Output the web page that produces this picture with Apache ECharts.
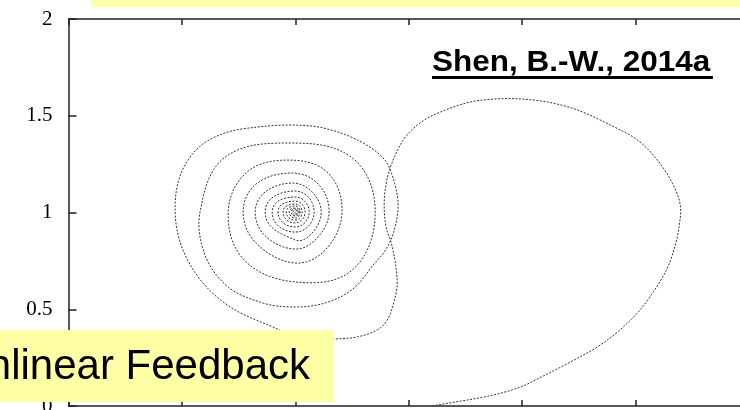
<!DOCTYPE html>
<html>
<head>
<meta charset="utf-8">
<script src="https://cdn.jsdelivr.net/npm/echarts@6/dist/echarts.min.js"></script>
<style>html,body{margin:0;padding:0;background:#fff}#c{width:740px;height:410px}</style>
</head>
<body>
<div id="c"></div>
<script>
// Axis tick values
const xTicks = [0, 0.5, 1, 1.5, 2, 2.5, 3];
const yTicks = [0, 0.5, 1, 1.5, 2];

// Trajectory (x, y), in order
const bigLoop = [
  [1.603,0.000],[1.758,0.031],[1.873,0.057],[1.992,0.098],[2.093,0.155],[2.212,0.227],
  [2.331,0.305],[2.420,0.382],[2.508,0.481],[2.578,0.589],[2.640,0.713],[2.675,0.832],
  [2.693,0.935],[2.697,1.039],[2.662,1.152],[2.596,1.271],[2.508,1.375],[2.389,1.452],
  [2.243,1.530],[2.111,1.571],[1.992,1.587],[1.890,1.587],[1.771,1.571],[1.639,1.519],
  [1.550,1.463],[1.476,1.375],[1.418,1.230],[1.396,1.116],[1.392,1.013],[1.401,0.920],
  [1.423,0.842],[1.440,0.744],[1.449,0.625],[1.431,0.522],[1.405,0.444],[1.361,0.393],
  [1.273,0.357],[1.176,0.346],[1.043,0.336]
];
const spiralTurn1 = [
  [0.911,0.403],[0.721,0.506],[0.589,0.641],[0.501,0.817],[0.470,1.003],[0.492,1.189],
  [0.571,1.333],[0.690,1.411],[0.836,1.442],[0.986,1.452],[1.123,1.437],[1.273,1.375],
  [1.387,1.282],[1.431,1.178],[1.453,1.034],[1.431,0.889],[1.392,0.796],[1.343,0.729],
  [1.273,0.625],[1.198,0.563],[1.096,0.522],[0.977,0.512]
];
const spiralTurn2 = [
  [0.858,0.532],[0.704,0.615],[0.602,0.780],[0.580,1.003],[0.686,1.282],[0.964,1.359],
  [1.251,1.282],[1.352,1.003],[1.251,0.703],[0.999,0.641]
];
const spiralTurn3 = [
  [0.774,0.755],[0.704,1.003],[0.787,1.209],[0.968,1.271],[1.140,1.209],[1.206,1.008],
  [1.136,0.811],[0.999,0.739]
];
const spiralTurn4 = [
  [0.827,0.842],[0.770,1.003],[0.827,1.147],[0.986,1.204],[1.101,1.147],[1.149,1.003],
  [1.096,0.868],[0.999,0.811]
];
const spiralTurn5 = [
  [0.867,0.879],[0.823,1.003],[0.867,1.106],[0.990,1.152],[1.074,1.106],[1.114,1.003],
  [1.074,0.894],[0.999,0.858]
];
const spiralCore = [
  [0.867,1.003],[0.999,1.111],[1.083,1.003],[0.999,0.899],
  [0.898,1.003],[0.999,1.080],[1.061,1.003],[0.999,0.925],
  [0.924,1.003],[0.999,1.059],[1.043,1.003],[0.999,0.946],
  [0.946,1.003],[0.999,1.044],[1.030,1.003],[0.999,0.961],
  [0.960,1.003],[0.999,1.034],[1.021,1.003],[0.999,0.972],
  [0.973,1.003],[0.999,1.023],[1.017,1.003],[0.999,0.982],
  [0.982,1.003],[0.999,1.018],[1.012,1.003],[0.999,0.987],
  [0.990,1.003],[0.999,1.013],[1.008,1.003],[0.999,0.992],
  [0.999,1.003]
];

const trajectory = [].concat(bigLoop, spiralTurn1, spiralTurn2, spiralTurn3, spiralTurn4, spiralTurn5, spiralCore);

const axisColor = '#222';

// smooth curve through the projected points (handle length adapted to the turning angle)
function buildPath(pts) {
  const n = pts.length;
  const tan = [];
  for (let i = 0; i < n; i++) {
    const p = pts[i];
    const a = pts[i - 1] || p, b = pts[i + 1] || p;
    const ux = p[0] - a[0], uy = p[1] - a[1], wx = b[0] - p[0], wy = b[1] - p[1];
    const dPrev = Math.hypot(ux, uy), dNext = Math.hypot(wx, wy);
    let s = 1 / 3;
    if (dPrev > 0 && dNext > 0) {
      let th = Math.acos(Math.max(-1, Math.min(1, (ux * wx + uy * wy) / (dPrev * dNext))));
      th = Math.min(th, 1.9);
      if (th > 1e-3) s = (4 / 3) * Math.tan(th / 4) / Math.sin(th);
    }
    const sum = dPrev + dNext || 1;
    const vx = b[0] - a[0], vy = b[1] - a[1];
    tan.push({
      inX: p[0] - vx * s * dPrev / sum, inY: p[1] - vy * s * dPrev / sum,
      outX: p[0] + vx * s * dNext / sum, outY: p[1] + vy * s * dNext / sum
    });
  }
  let d = 'M' + pts[0][0].toFixed(2) + ',' + pts[0][1].toFixed(2);
  for (let i = 0; i < n - 1; i++) {
    const q = pts[i + 1];
    d += ' C' + tan[i].outX.toFixed(2) + ',' + tan[i].outY.toFixed(2) + ' ' +
      tan[i + 1].inX.toFixed(2) + ',' + tan[i + 1].inY.toFixed(2) + ' ' +
      q[0].toFixed(2) + ',' + q[1].toFixed(2);
  }
  return d;
}

const chart = echarts.init(document.getElementById('c'), null, {renderer: 'canvas'});
chart.setOption({
  animation: false,
  backgroundColor: '#fff',
  grid: {left: 68.5, top: 19, right: -9, bottom: 4, containLabel: false, outerBoundsMode: 'none'},
  xAxis: [{
    type: 'value', min: xTicks[0], max: xTicks[xTicks.length - 1], interval: 0.5, position: 'bottom',
    axisLine: {show: true, onZero: false, lineStyle: {color: axisColor, width: 1.5}},
    axisTick: {show: true, inside: true, length: 6, lineStyle: {color: axisColor, width: 1.5}},
    axisLabel: {show: true, fontFamily: 'Liberation Serif', fontSize: 21, color: '#000'},
    splitLine: {show: false}
  }, {
    type: 'value', min: xTicks[0], max: xTicks[xTicks.length - 1], interval: 0.5, position: 'top',
    axisLine: {show: true, onZero: false, lineStyle: {color: axisColor, width: 1.5}},
    axisTick: {show: true, inside: true, length: 6, lineStyle: {color: axisColor, width: 1.5}},
    axisLabel: {show: false},
    splitLine: {show: false}
  }],
  yAxis: [{
    type: 'value', min: yTicks[0], max: yTicks[yTicks.length - 1], interval: 0.5,
    axisLine: {show: true, onZero: false, lineStyle: {color: axisColor, width: 1.5}},
    axisTick: {show: true, inside: true, length: 8, lineStyle: {color: axisColor, width: 1.5}},
    axisLabel: {show: true, fontFamily: 'Liberation Serif', fontSize: 21, color: '#000', margin: 16,
      formatter: v => String(v)},
    splitLine: {show: false}
  }],
  series: [{
    type: 'custom',
    coordinateSystem: 'cartesian2d',
    xAxisIndex: 0, yAxisIndex: 0,
    data: trajectory,
    encode: {x: 0, y: 1},
    clip: true,
    z: 2,
    renderItem: function (params, api) {
      if (params.dataIndex !== 0) return null;
      const pts = trajectory.map(p => api.coord(p));
      return {
        type: 'path',
        shape: {pathData: buildPath(pts)},
        style: {stroke: '#333', lineWidth: 1, lineDash: [2, 1.5], fill: 'none'}
      };
    }
  }],
  graphic: [
    {type: 'rect', shape: {x: 91, y: -2, width: 660, height: 9}, style: {fill: '#FFFFA5'}, z: 100},
    {type: 'rect', shape: {x: 0, y: 330, width: 334, height: 72}, style: {fill: '#FFFFA5'}, z: 100},
    {type: 'text', x: 310, y: 367.5, z: 101,
      style: {text: 'Nonlinear Feedback', fontFamily: 'Liberation Sans', fontSize: 42, fill: '#000',
        textAlign: 'right', textVerticalAlign: 'middle'}},
    {type: 'text', x: 432, y: 62.5, scaleX: 1.05, z: 101,
      style: {text: 'Shen, B.-W., 2014a', fontFamily: 'Liberation Sans', fontWeight: 'bold', fontSize: 30, fill: '#000',
        textAlign: 'left', textVerticalAlign: 'middle'}},
    {type: 'rect', shape: {x: 432, y: 76, width: 281, height: 3}, style: {fill: '#000'}, z: 101}
  ]
});
</script>
</body>
</html>
